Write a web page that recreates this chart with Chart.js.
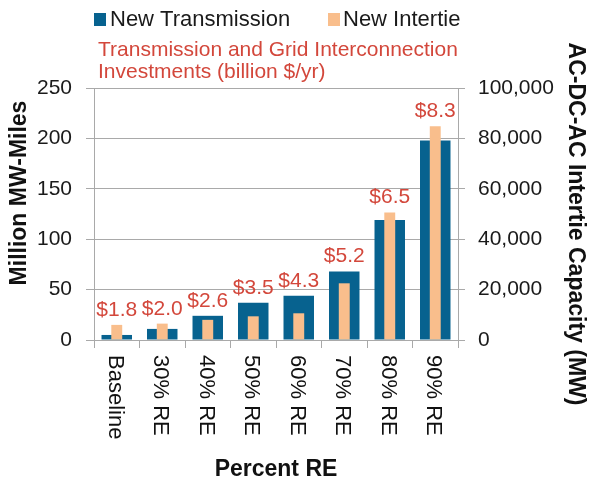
<!DOCTYPE html>
<html>
<head>
<meta charset="utf-8">
<script src="https://cdn.jsdelivr.net/npm/chart.js@4"></script>
<style>
  html,body{margin:0;padding:0;background:#fff;}
  #wrap{width:592px;height:483px;}
</style>
</head>
<body>
<div id="wrap"><canvas id="reChart" width="592" height="483"></canvas></div>
<script>
const categories = ['Baseline','30% RE','40% RE','50% RE','60% RE','70% RE','80% RE','90% RE'];
const transmission = [5, 11, 24, 37, 44, 68, 119, 198];            // million MW-miles
const intertie = [6000, 6500, 8000, 9400, 10600, 22500, 50600, 84800]; // MW
const investments = [1.8, 2.0, 2.6, 3.5, 4.3, 5.2, 6.5, 8.3];     // billion $/yr
const leftTicks = [0, 50, 100, 150, 200, 250];
const rightTicks = [0, 20000, 40000, 60000, 80000, 100000];

const BLUE = '#07628f';
const PEACH = '#f9be8c';
const RED = '#d3473b';
const GRID = '#a9a9a9';
const FONT = '"Liberation Sans", Arial, sans-serif';

/* extra text: legend, subtitle, axis titles, rotated category labels, $ labels */
const chartText = {
  id: 'chartText',
  afterDraw(chart){
    const ctx = chart.ctx;
    const area = chart.chartArea;
    ctx.save();

    // legend
    ctx.font = '22px ' + FONT;
    ctx.textBaseline = 'middle';
    ctx.textAlign = 'left';
    ctx.fillStyle = BLUE;
    ctx.fillRect(94, 13, 12, 13);
    ctx.fillStyle = '#1a1a1a';
    ctx.fillText(chart.data.datasets[0].label, 110, 20);
    ctx.fillStyle = PEACH;
    ctx.fillRect(328, 13, 12, 13);
    ctx.fillStyle = '#1a1a1a';
    ctx.fillText(chart.data.datasets[1].label, 343, 20);

    // red subtitle
    ctx.font = '21px ' + FONT;
    ctx.fillStyle = RED;
    ctx.fillText('Transmission and Grid Interconnection', 98, 50);
    ctx.fillText('Investments (billion $/yr)', 98, 72);

    // axis titles
    ctx.font = 'bold 23px ' + FONT;
    ctx.fillStyle = '#111';
    ctx.textAlign = 'center';
    ctx.fillText('Percent RE', (area.left + area.right) / 2, 470);

    ctx.save();
    ctx.translate(20, 193);
    ctx.rotate(-Math.PI / 2);
    ctx.fillText('Million MW-Miles', 0, 0);
    ctx.restore();

    ctx.save();
    ctx.translate(575, 224);
    ctx.rotate(Math.PI / 2);
    ctx.fillText('AC-DC-AC Intertie Capacity (MW)', 0, 0);
    ctx.restore();

    // category labels, reading top to bottom
    const xs = chart.scales.x;
    ctx.font = '22px ' + FONT;
    ctx.textAlign = 'left';
    categories.forEach((c, i) => {
      ctx.save();
      ctx.translate(xs.getPixelForTick(i) - 2, area.bottom + 15);
      ctx.rotate(Math.PI / 2);
      ctx.fillText(c, 0, 0);
      ctx.restore();
    });

    // investment labels above the taller bar
    const m0 = chart.getDatasetMeta(0).data;
    const m1 = chart.getDatasetMeta(1).data;
    ctx.font = '21px ' + FONT;
    ctx.fillStyle = RED;
    ctx.textAlign = 'center';
    ctx.textBaseline = 'alphabetic';
    investments.forEach((v, i) => {
      const top = Math.min(m0[i].y, m1[i].y);
      ctx.fillText('$' + v.toFixed(1), m0[i].x, top - 9);
    });

    ctx.restore();
  }
};

const ctx = document.getElementById('reChart').getContext('2d');
new Chart(ctx, {
  type: 'bar',
  data: {
    labels: categories,
    datasets: [{
      label: 'New Transmission',
      data: transmission,
      yAxisID: 'y',
      backgroundColor: BLUE,
      barPercentage: 0.67,
      categoryPercentage: 1,
      grouped: false,
      order: 1
    }, {
      label: 'New Intertie',
      data: intertie,
      yAxisID: 'y1',
      backgroundColor: PEACH,
      barPercentage: 0.24,
      categoryPercentage: 1,
      grouped: false,
      order: 0
    }]
  },
  options: {
    responsive: false,
    animation: false,
    devicePixelRatio: 1,
    layout: { padding: { top: 88, left: 0, right: 0, bottom: 0 } },
    plugins: { legend: { display: false }, tooltip: { enabled: false } },
    scales: {
      x: {
        offset: true,
        grid: { offset: true, drawOnChartArea: false, drawTicks: true, tickLength: 8, color: GRID },
        border: { color: GRID },
        ticks: { display: false },
        afterFit: s => { s.height = 143; }
      },
      y: {
        position: 'left',
        min: 0, max: 250,
        afterBuildTicks: s => { s.ticks = leftTicks.map(v => ({ value: v })); },
        grid: { color: GRID, tickLength: 8 },
        border: { color: GRID },
        ticks: { font: { size: 21, family: FONT }, color: '#1a1a1a', padding: 14 },
        afterFit: s => { s.width = 94; }
      },
      y1: {
        position: 'right',
        min: 0, max: 100000,
        afterBuildTicks: s => { s.ticks = rightTicks.map(v => ({ value: v })); },
        grid: { drawOnChartArea: false, color: GRID, tickLength: 7 },
        border: { color: GRID },
        ticks: {
          font: { size: 21, family: FONT }, color: '#1a1a1a', padding: 13,
          callback: v => v.toLocaleString('en-US')
        },
        afterFit: s => { s.width = 134; }
      }
    }
  },
  plugins: [chartText]
});
</script>
</body>
</html>
